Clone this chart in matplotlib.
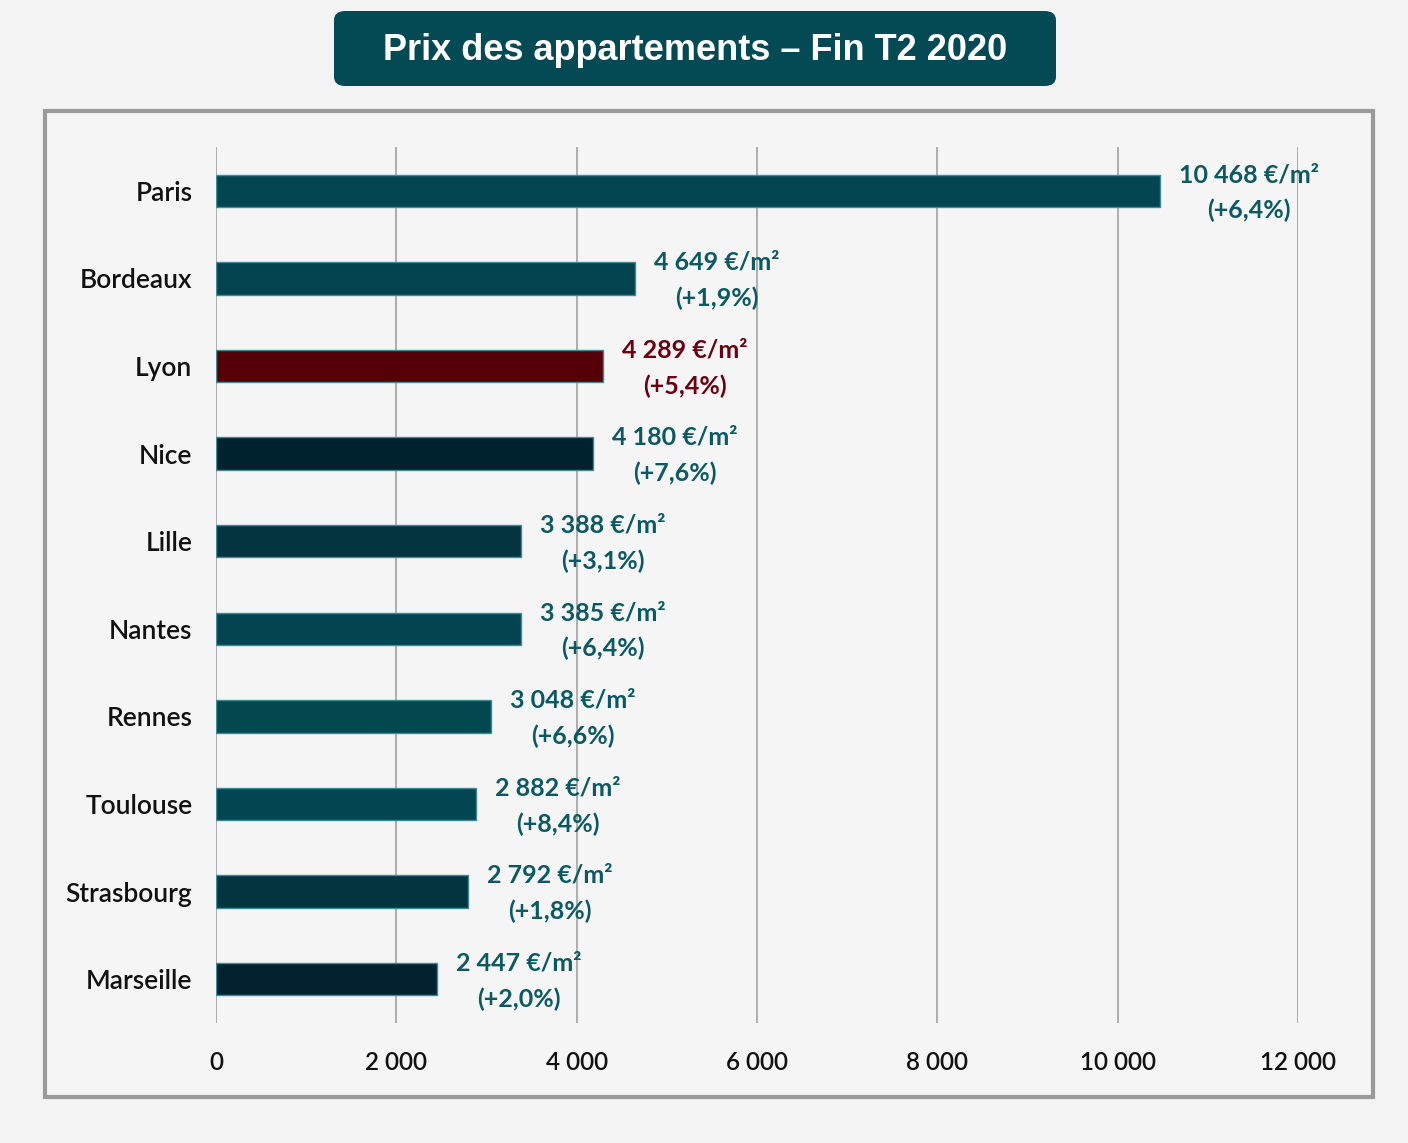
import matplotlib
matplotlib.use("Agg")
import matplotlib.pyplot as plt
from matplotlib.patches import FancyBboxPatch, Rectangle

cities = ["Paris", "Bordeaux", "Lyon", "Nice", "Lille", "Nantes", "Rennes",
          "Toulouse", "Strasbourg", "Marseille"]
prices = [10468, 4649, 4289, 4180, 3388, 3385, 3048, 2882, 2792, 2447]
price_labels = ["10 468", "4 649", "4 289", "4 180", "3 388", "3 385", "3 048",
                "2 882", "2 792", "2 447"]
changes = ["+6,4%", "+1,9%", "+5,4%", "+7,6%", "+3,1%", "+6,4%", "+6,6%",
           "+8,4%", "+1,8%", "+2,0%"]
bar_colors = ["#034652", "#044450", "#550008", "#00212e", "#03333f", "#034450",
              "#03474f", "#044552", "#033540", "#022230"]
label_colors = ["#0b5a63"] * 10
label_colors[2] = "#6b0010"
xticks = [0, 2000, 4000, 6000, 8000, 10000, 12000]
xtick_labels = ["0", "2 000", "4 000", "6 000", "8 000", "10 000", "12 000"]
title = "Prix des appartements – Fin T2 2020"

W, H = 1408, 1143
fig = plt.figure(figsize=(W / 100, H / 100), dpi=100)
fig.patch.set_facecolor("#f3f3f3")

# frame
fig.patches.append(Rectangle((45 / W, 1 - 1097 / H), (1373 - 45) / W, (1097 - 111) / H,
                             transform=fig.transFigure, facecolor="#f5f5f5",
                             edgecolor="#9a9a9a", linewidth=3, zorder=-5))
# title box
fig.patches.append(FancyBboxPatch((334 / W, 1 - 86 / H), (1056 - 334) / W, (86 - 11) / H,
                                  boxstyle="round,pad=0,rounding_size=0.008",
                                  transform=fig.transFigure, facecolor="#044a55",
                                  edgecolor="none", zorder=-4))
fig.text(695 / W, 1 - 51 / H, title, color="white", fontsize=26, fontweight="bold",
         family="Liberation Sans", ha="center", va="center", zorder=2)

ax = fig.add_axes([216 / W, 1 - 1023 / H, (1298 - 216) / W, (1023 - 147) / H])
ax.set_zorder(3)
ax.set_facecolor("none")
ypos = list(range(len(cities)))
ax.barh(ypos, prices, height=0.37, color=bar_colors, edgecolor="#3f8c98",
        linewidth=1, zorder=3)
ax.set_xlim(0, 12000)
ax.set_ylim(9.5, -0.5)
ax.set_xticks(xticks)
ax.set_xticklabels(xtick_labels, family="Lato", fontweight="semibold",
                   fontsize=17.5, color="#111111")
ax.set_yticks(ypos)
ax.set_yticklabels(cities, family="Lato", fontweight="semibold",
                   fontsize=19, color="#111111")
ax.tick_params(axis="x", length=0, pad=20)
ax.tick_params(axis="y", length=0, pad=17)
for s in ax.spines.values():
    s.set_visible(False)
ax.grid(axis="x", color="#a8a8a8", linewidth=1.3, zorder=1)
ax.set_axisbelow(True)

for i, (p, pl, ch, c) in enumerate(zip(prices, price_labels, changes, label_colors)):
    ax.annotate(f"{pl} €/m²\n({ch})", xy=(p, i), xytext=(19, -2),
                textcoords="offset pixels", ha="left", va="center",
                multialignment="center",
                family="Lato", fontweight="bold", fontsize=18, color=c,
                linespacing=1.65, zorder=4)

fig.savefig("out.png", dpi=100, facecolor=fig.get_facecolor())
